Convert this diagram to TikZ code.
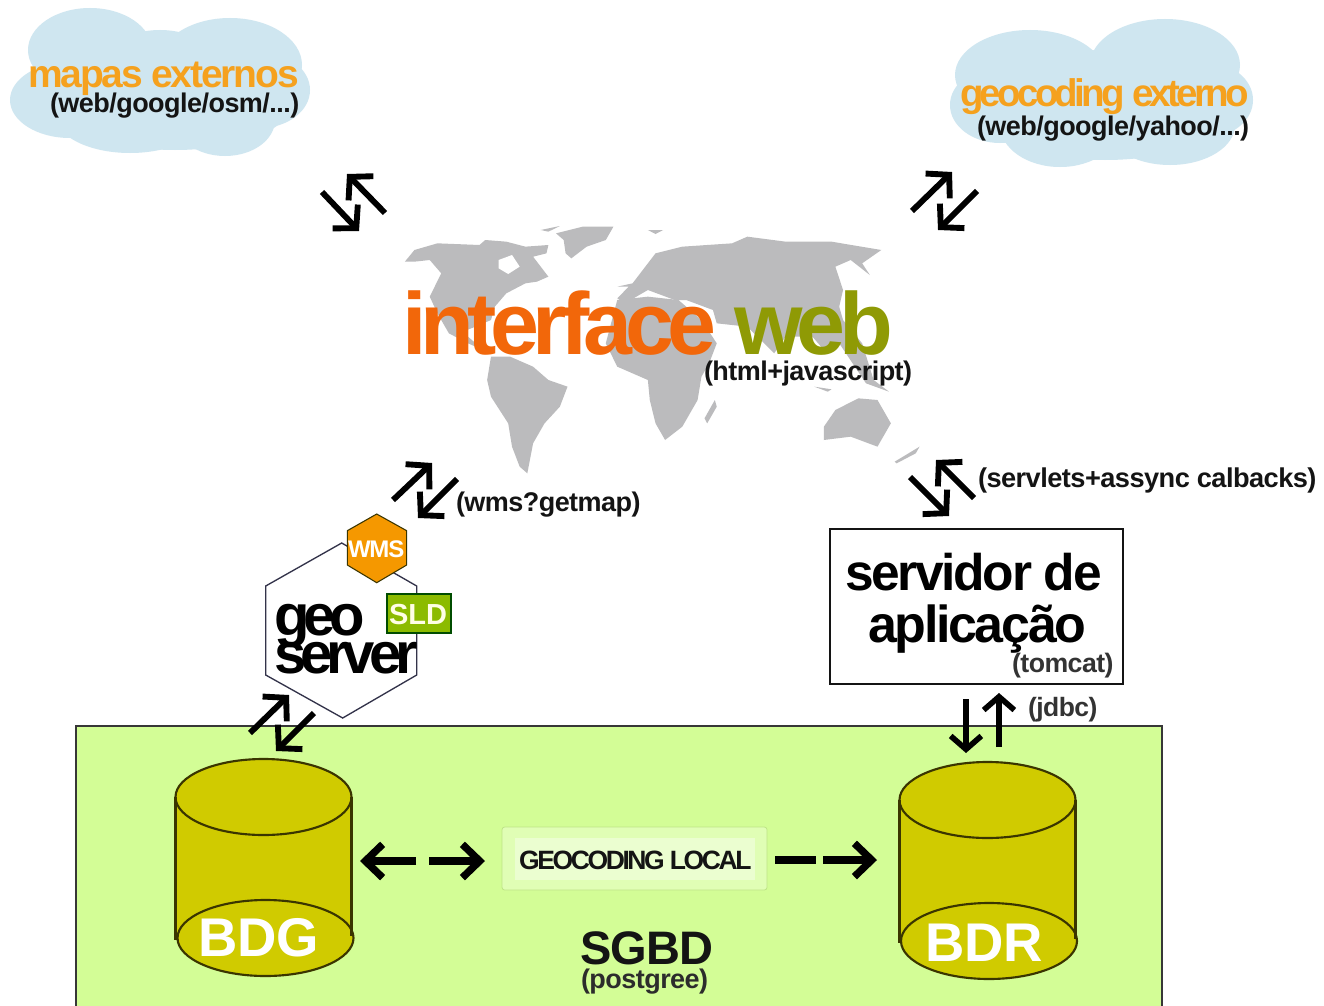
\documentclass[tikz,border=0pt]{standalone}
\usepackage{fontspec}
\setmainfont{Liberation Sans}
\usetikzlibrary{arrows.meta}
\newfontfamily\fInter[LetterSpace=-7.4]{Liberation Sans}
\newfontfamily\fMapas[LetterSpace=-5.6]{Liberation Sans}
\newfontfamily\fGeoc[LetterSpace=-9.6]{Liberation Sans}
\newfontfamily\fSmall[LetterSpace=-2]{Liberation Sans}
\newfontfamily\fServ[LetterSpace=-4.5]{Liberation Sans}
\newfontfamily\fGeo[LetterSpace=-10.5]{Liberation Sans}
\newfontfamily\fLocal[LetterSpace=-5]{Liberation Sans}
\newfontfamily\fLocalT[LetterSpace=-9]{Liberation Sans}
\newfontfamily\fPlain{Liberation Sans}
\definecolor{cloudblue}{HTML}{CFE6F0}
\definecolor{mapgrey}{HTML}{BBBBBD}
\definecolor{orangeA}{HTML}{F2670A}
\definecolor{oliveA}{HTML}{8F9A05}
\definecolor{orangeB}{HTML}{F5A11E}
\definecolor{dbgreen}{HTML}{D3FD96}
\definecolor{dbfill}{HTML}{D0CB00}
\definecolor{dbline}{HTML}{3A3500}
\definecolor{wmsfill}{HTML}{F59800}
\definecolor{sldfill}{HTML}{8CBB00}
\definecolor{hexline}{HTML}{33334A}
\definecolor{inkblack}{HTML}{141414}
% label: name, x, baseline y, font, size in px, colour, text
\newcommand{\tx}[7]{\node[lbl,text=#6] (#1) at (#2,#3) {\fontsize{\dimexpr#5pt*3/4\relax}{\dimexpr#5pt*3/4\relax}#4\bfseries\selectfont #7};}
% arrow: name, x1,y1, x2,y2, style
\newcommand{\arw}[6]{\coordinate (#1a) at (#2,#3); \coordinate (#1b) at (#4,#5); \draw[#6] (#1a) -- (#1b);}
% cylinder: name, top centre x, top centre y, bottom centre x, bottom centre y
\newcommand{\cyl}[5]{%
  \fill[dbfill] (#4,#5) ellipse[x radius=88,y radius=38];
  \fill[dbfill] (#2-88,#3) -- (#2-88,#5) -- (#2+88,#5) -- (#2+88,#3) -- cycle;
  \fill[dbfill] (#2,#3) ellipse[x radius=88,y radius=38];
  \draw[dbedge] (#2-88,#3) -- (#2-88,#5+2);
  \draw[dbedge] (#2+88,#3) -- (#2+88,#5-2);
  \draw[dbedge] (#2,#3) ellipse[x radius=88,y radius=38];
  \draw[dbedge] (#4,#5) ellipse[x radius=88,y radius=38];
}
\tikzset{
  lbl/.style={anchor=base west,inner sep=0pt,outer sep=0pt},
  dbedge/.style={draw=dbline,line width=1.6pt},
  cloudpart/.style={fill=cloudblue},
  mappart/.style={fill=mapgrey},
  diag/.style={line width=4.4pt,black,-{Straight Barb[length=12pt,width=26pt,line width=4.4pt]}},
  vert/.style={line width=4.2pt,black,-{Straight Barb[length=10pt,width=23pt,line width=4.2pt]}},
  horiz/.style={line width=5.5pt,black,-{Straight Barb[length=13pt,width=25pt,line width=5.5pt]}},
  bar/.style={line width=5.5pt,black},
}
\begin{document}
\begin{tikzpicture}[x=0.75pt,y=-0.75pt]
\useasboundingbox (0,0) rectangle (1324,1006);
\fill[white] (0,0) rectangle (1324,1006);
% clouds
\foreach \cx/\cy/\rx/\ry in {90/50/62/42,230/65/72/47,70/100/60/38,160/70/60/40,260/90/50/38,130/115/75/38,225/120/50/36,175/105/115/45}
  \fill[cloudpart] (\cx,\cy) ellipse[x radius=\rx,y radius=\ry];
\foreach \cx/\cy/\rx/\ry in {1030/75/75/45,1165/65/75/46,1000/105/50/38,1205/100/48/38,1060/125/60/42,1170/125/65/40,1100/90/60/40,1105/115/120/45}
  \fill[cloudpart] (\cx,\cy) ellipse[x radius=\rx,y radius=\ry];
% world map
\begin{scope}[shift={(380,210)},x=0.287pt,y=-0.25pt]
 \fill[mappart] (65,155)--(90,120)--(150,100)--(260,105)--(275,90)--(330,95)--(380,110)--(440,105)--(435,130)--(400,140)--(420,170)--(440,200)--(410,215)--(380,220)--(330,250)--(300,290)--(290,330)--(250,350)--(215,365)--(250,400)--(290,425)--(270,420)--(230,400)--(180,370)--(150,310)--(130,260)--(160,190)--(130,150)--(90,155)--cycle;
 \fill[white] (310,150)--(345,135)--(365,170)--(335,192)--(310,175)--cycle;
 \fill[mappart] (460,70)--(530,50)--(610,50)--(590,90)--(540,110)--(500,145)--(485,130)--(480,90)--cycle;
 \fill[mappart] (290,440)--(340,440)--(400,470)--(440,510)--(490,530)--(470,590)--(430,640)--(400,700)--(385,790)--(365,770)--(345,710)--(335,640)--(290,560)--(280,510)--cycle;
 \fill[mappart] (620,270)--(700,260)--(780,270)--(840,330)--(880,400)--(860,460)--(840,500)--(830,570)--(790,650)--(745,690)--(720,640)--(705,570)--(700,510)--(620,470)--(590,400)--cycle;
 \fill[mappart] (620,230)--(660,220)--(680,190)--(720,130)--(790,110)--(920,100)--(960,80)--(1060,95)--(1180,95)--(1310,120)--(1260,160)--(1280,195)--(1230,150)--(1190,170)--(1210,240)--(1200,290)--(1210,330)--(1260,400)--(1290,510)--(1330,545)--(1270,520)--(1200,400)--(1160,420)--(1130,380)--(1060,380)--(1030,430)--(960,350)--(880,340)--(870,300)--(800,270)--(770,270)--(700,240)--(640,280)--(620,265)--(650,230)--cycle;
 \fill[mappart] (1160,650)--(1190,600)--(1250,565)--(1300,570)--(1335,640)--(1300,710)--(1230,680)--(1160,690)--cycle;
 \fill[mappart] (875,570)--(880,590)--(855,640)--(848,625)--cycle;
 \fill[mappart] (1345,755)--(1410,710)--(1400,730)--(1350,760)--cycle;
 \fill[mappart] (420,60)--(470,48)--(440,65)--cycle;
 \fill[mappart] (700,60)--(740,60)--(720,72)--cycle;
 \fill[mappart] (1135,530)--(1180,538)--(1170,545)--cycle;
\end{scope}
% labels of the top part
\tx{tmapas}{28}{88}{\fMapas}{39}{orangeB}{mapas externos}
\tx{tmapasb}{50}{113}{\fSmall}{27}{inkblack}{(web/google/osm/...)}
\tx{tgeoc}{960}{106}{\fGeoc}{38.5}{orangeB}{geocoding externo}
\tx{tgeocb}{977}{135}{\fSmall}{27}{inkblack}{(web/google/yahoo/...)}
\node[lbl] (tinter) at (402,354) {\fontsize{66}{66}\fInter\bfseries\selectfont\textcolor{orangeA}{interface} \textcolor{oliveA}{web}};
\tx{thtml}{704}{380}{\fSmall}{27}{inkblack}{(html+javascript)}
% green area
\fill[dbgreen] (76,726) rectangle (1162,1006);
\draw[line width=1.2pt,inkblack!85] (76,1010) -- (76,726) -- (1162,726) -- (1162,1010);
% geoserver
\draw[hexline,line width=1pt,fill=white] (341.7,543) -- (416.7,586) -- (416.7,675) -- (342.7,718) -- (265.7,675) -- (265.7,586) -- cycle;
\draw[dbline,line width=.8pt,fill=wmsfill] (376.7,514) -- (406.7,530.7) -- (406.7,565) -- (376.7,582.7) -- (347.3,565) -- (347.3,530.7) -- cycle;
\tx{twms}{348}{557}{\fLocal}{24}{white}{WMS}
\draw[draw=black!70!green,line width=1.6pt,fill=sldfill] (386.7,594) rectangle (451,633);
\tx{tsld}{389}{624}{\fPlain}{29}{white!90!yellow}{SLD}
\tx{tgeo}{274}{635}{\fGeo}{58}{black}{geo}
\tx{tserver}{274}{673}{\fGeo}{58}{black}{server}
% application server
\draw[inkblack,line width=1.2pt,fill=white] (830,529) rectangle (1123,684);
\tx{tservidor}{845}{590}{\fServ}{51.5}{black}{servidor de}
\tx{tapl}{868}{642}{\fServ}{52}{black}{aplicação}
\tx{ttom}{1012}{672}{\fSmall}{26.7}{black!80}{(tomcat)}
\tx{tjdbc}{1028}{716}{\fSmall}{26.5}{black!80}{(jdbc)}
\tx{twmsq}{456}{511}{\fSmall}{27}{inkblack}{(wms?getmap)}
\tx{tservlet}{978}{487}{\fSmall}{27.2}{inkblack}{(servlets+assync calbacks)}
% databases
\cyl{bdg}{263.5}{797}{265.5}{938}
\cyl{bdr}{987.5}{800}{989}{941}
\tx{tbdg}{198}{956}{\fPlain}{54.5}{white}{BDG}
\tx{tbdr}{925}{961}{\fPlain}{54.5}{white}{BDR}
% geocoding
\draw[draw=dbgreen!90!black,fill=dbgreen!70!white,rounded corners=2pt,line width=.6pt] (502,827) rectangle (767,890);
\fill[dbgreen!45!white] (515,838) rectangle (755,880);
\tx{tlocal}{519}{869}{\fLocalT}{26.5}{inkblack}{GEOCODING LOCAL}
\tx{tsgbd}{580}{964}{\fSmall}{47}{inkblack}{SGBD}
\tx{tpost}{581}{988}{\fSmall}{27}{inkblack!90}{(postgree)}
% arrows
\arw{a1}{322}{192}{359}{231}{diag}
\arw{a2}{385}{213}{347}{174}{diag}
\arw{a3}{912}{211}{952}{172}{diag}
\arw{a4}{977}{191}{938}{230}{diag}
\arw{a5}{910}{477}{949}{516}{diag}
\arw{a6}{974}{498}{936}{460}{diag}
\arw{a7}{393}{500}{432}{463}{diag}
\arw{a8}{457}{479}{418}{518}{diag}
\arw{a9}{250}{733}{289}{695}{diag}
\arw{a10}{314}{713}{276}{751}{diag}
\arw{a11}{966}{699}{966}{753}{vert}
\arw{a12}{999}{747}{999}{693}{vert}
\arw{a13}{416}{861}{360}{861}{horiz}
\arw{a14}{429}{861}{485}{861}{horiz}
\arw{a15}{775}{860}{816}{860}{bar}
\arw{a16}{823}{860}{877}{860}{horiz}
\end{tikzpicture}
\end{document}
